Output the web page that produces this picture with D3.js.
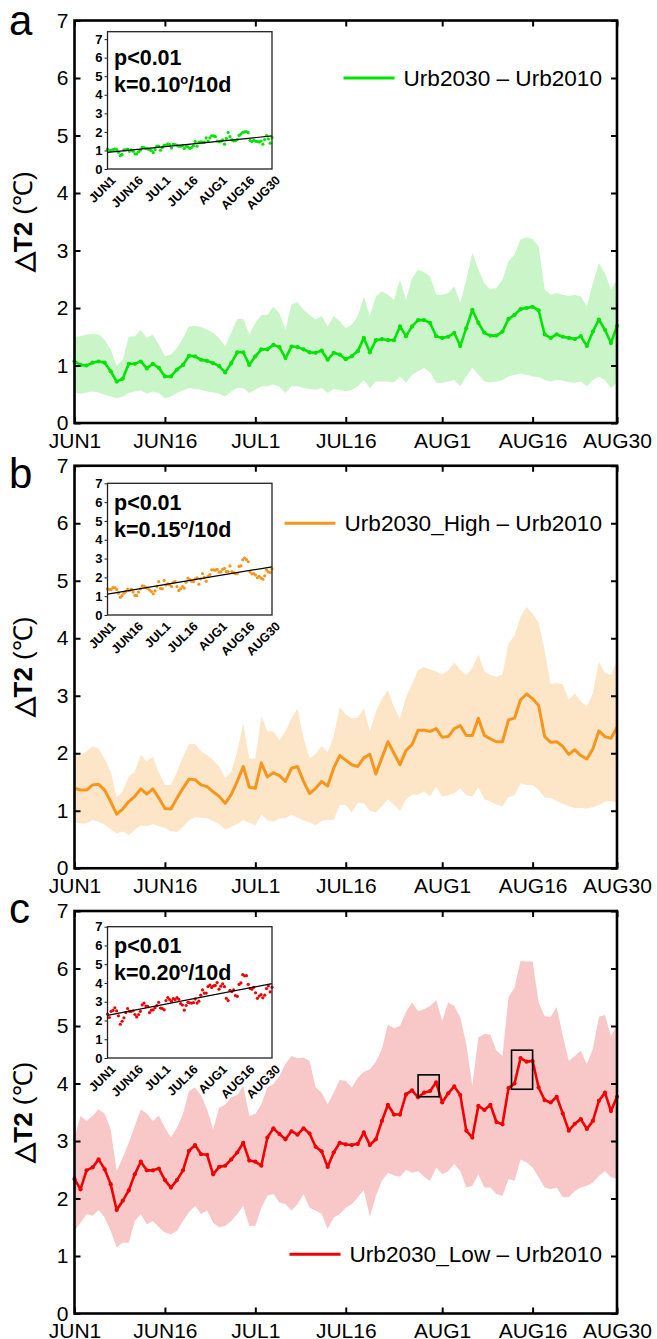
<!DOCTYPE html>
<html lang="en">
<head>
  <meta charset="UTF-8">
  <script src="https://d3js.org/d3.v7.min.js"></script>
  <title></title>
  <style>
    body { margin: 0; background: #fff; }
    text { font-family: "Liberation Sans", Arial, sans-serif; }
  </style>
</head>
<body>
  <script>
    // days are indexed from JUN1 (0) to AUG30 (90)
    var tickDays = [0, 15, 30, 45, 61, 76, 90];
    var tickLabels = ['JUN1', 'JUN16', 'JUL1', 'JUL16', 'AUG1', 'AUG16', 'AUG30'];
    var yTicks = [0, 1, 2, 3, 4, 5, 6, 7];

    var meanA = [1.07, 1.01, 1.0, 1.05, 1.07, 1.05, 0.9, 0.72, 0.77, 1.03,
      1.03, 1.07, 0.95, 1.03, 0.96, 0.81, 0.81, 0.93, 1.01, 1.17,
      1.16, 1.1, 1.08, 1.04, 0.99, 0.88, 1.04, 1.23, 1.23, 1.01,
      1.16, 1.28, 1.28, 1.36, 1.32, 1.13, 1.33, 1.32, 1.28, 1.23,
      1.22, 1.26, 1.1, 1.22, 1.19, 1.11, 1.16, 1.25, 1.48, 1.23,
      1.44, 1.46, 1.44, 1.44, 1.68, 1.51, 1.68, 1.79, 1.79, 1.74,
      1.51, 1.48, 1.5, 1.57, 1.34, 1.65, 1.97, 1.74, 1.57, 1.52,
      1.52, 1.59, 1.81, 1.88, 1.98, 2.0, 2.02, 1.96, 1.54, 1.48,
      1.54, 1.5, 1.48, 1.46, 1.51, 1.34, 1.59, 1.8, 1.62, 1.39,
      1.69];
    var upperA = [1.5, 1.51, 1.54, 1.55, 1.54, 1.45, 1.28, 0.99, 1.1, 1.5,
      1.51, 1.62, 1.48, 1.54, 1.36, 1.16, 1.19, 1.3, 1.48, 1.68,
      1.69, 1.67, 1.62, 1.57, 1.48, 1.33, 1.57, 1.81, 1.81, 1.54,
      1.74, 1.88, 1.88, 2.02, 1.91, 1.62, 2.06, 2.1, 1.97, 1.88,
      1.8, 1.86, 1.68, 1.86, 1.77, 1.65, 1.71, 1.86, 2.2, 1.86,
      2.2, 2.29, 2.23, 2.14, 2.49, 2.14, 2.52, 2.67, 2.62, 2.55,
      2.23, 2.23, 2.26, 2.38, 2.09, 2.49, 2.96, 2.67, 2.43, 2.32,
      2.35, 2.49, 2.81, 2.93, 3.19, 3.23, 3.2, 3.07, 2.32, 2.23,
      2.26, 2.23, 2.21, 2.23, 2.2, 2.03, 2.43, 2.78, 2.61, 2.32,
      2.49];
    var lowerA = [0.53, 0.51, 0.53, 0.55, 0.53, 0.49, 0.46, 0.43, 0.46, 0.52,
      0.55, 0.57, 0.51, 0.55, 0.52, 0.43, 0.46, 0.52, 0.57, 0.61,
      0.59, 0.58, 0.55, 0.53, 0.51, 0.46, 0.55, 0.61, 0.61, 0.52,
      0.58, 0.64, 0.64, 0.67, 0.63, 0.52, 0.64, 0.64, 0.61, 0.59,
      0.58, 0.61, 0.52, 0.59, 0.58, 0.55, 0.58, 0.64, 0.75, 0.61,
      0.72, 0.72, 0.72, 0.71, 0.81, 0.7, 0.84, 0.9, 0.96, 0.88,
      0.7, 0.7, 0.72, 0.75, 0.64, 0.81, 0.96, 0.84, 0.72, 0.71,
      0.72, 0.75, 0.81, 0.84, 0.86, 0.84, 0.81, 0.8, 0.75, 0.72,
      0.75, 0.74, 0.71, 0.7, 0.72, 0.64, 0.75, 0.81, 0.75, 0.61,
      0.7];

    var meanB = [1.39, 1.36, 1.36, 1.45, 1.46, 1.36, 1.16, 0.94, 1.03, 1.16,
      1.25, 1.38, 1.29, 1.38, 1.22, 1.04, 1.03, 1.22, 1.39, 1.55,
      1.54, 1.45, 1.42, 1.33, 1.25, 1.13, 1.28, 1.51, 1.77, 1.41,
      1.39, 1.83, 1.59, 1.66, 1.61, 1.51, 1.74, 1.77, 1.51, 1.3,
      1.39, 1.51, 1.43, 1.74, 1.96, 1.88, 1.8, 1.77, 1.92, 1.98,
      1.64, 1.92, 2.2, 2.0, 1.8, 2.05, 2.15, 2.4, 2.4, 2.38,
      2.43, 2.28, 2.29, 2.43, 2.48, 2.31, 2.31, 2.61, 2.31, 2.25,
      2.2, 2.2, 2.58, 2.61, 2.93, 3.03, 2.95, 2.83, 2.29, 2.19,
      2.2, 2.12, 1.98, 2.06, 1.96, 1.9, 2.08, 2.39, 2.29, 2.26,
      2.45];
    var upperB = [1.97, 1.97, 2.03, 2.12, 2.08, 1.9, 1.68, 1.23, 1.33, 1.6,
      1.68, 1.97, 1.86, 1.94, 1.66, 1.45, 1.45, 1.68, 1.94, 2.16,
      2.16, 2.03, 1.97, 1.88, 1.77, 1.57, 1.68, 2.03, 2.52, 1.91,
      1.91, 2.65, 2.38, 2.38, 2.23, 2.38, 2.61, 2.78, 2.26, 1.91,
      1.99, 2.12, 2.01, 2.3, 2.8, 2.68, 2.61, 2.62, 2.78, 2.38,
      2.72, 2.95, 3.1, 2.8, 2.6, 2.98, 3.2, 3.45, 3.5, 3.46,
      3.42, 3.37, 3.44, 3.58, 3.45, 3.36, 3.48, 3.72, 3.42, 3.36,
      3.33, 3.37, 3.91, 4.05, 4.38, 4.55, 4.42, 4.27, 3.78, 3.2,
      3.22, 3.2, 2.93, 3.04, 2.9, 2.81, 3.05, 3.59, 3.4, 3.36,
      3.62];
    var lowerB = [0.8, 0.78, 0.78, 0.84, 0.81, 0.76, 0.68, 0.61, 0.64, 0.58,
      0.67, 0.75, 0.73, 0.77, 0.73, 0.7, 0.65, 0.63, 0.72, 0.83,
      0.89, 0.88, 0.87, 0.82, 0.77, 0.67, 0.72, 0.77, 0.84, 0.79,
      0.75, 0.93, 0.84, 0.81, 0.87, 0.87, 0.93, 0.88, 0.83, 0.8,
      0.75, 0.82, 0.84, 0.84, 1.1, 1.1, 0.97, 1.14, 1.13, 1.0,
      0.97, 1.08, 1.2, 1.1, 1.0, 1.2, 1.28, 1.28, 1.34, 1.25,
      1.42, 1.25, 1.27, 1.31, 1.39, 1.27, 1.25, 1.41, 1.2, 1.16,
      1.11, 1.08, 1.24, 1.27, 1.48, 1.45, 1.45, 1.36, 1.23, 1.22,
      1.17, 1.12, 1.08, 1.05, 1.05, 1.04, 1.06, 1.1, 1.16, 1.17,
      1.15];

    var meanC = [2.34, 2.16, 2.49, 2.54, 2.68, 2.51, 2.25, 1.8, 1.96, 2.14,
      2.42, 2.64, 2.49, 2.49, 2.52, 2.32, 2.19, 2.32, 2.49, 2.83,
      2.93, 2.77, 2.76, 2.42, 2.55, 2.57, 2.68, 2.8, 2.97, 2.66,
      2.64, 2.57, 3.06, 3.22, 3.12, 3.03, 3.17, 3.11, 3.22, 3.13,
      2.9, 2.82, 2.55, 2.8, 2.97, 2.94, 2.93, 2.95, 3.15, 2.93,
      3.03, 3.35, 3.63, 3.46, 3.46, 3.81, 3.88, 3.76, 3.84, 3.87,
      4.02, 3.67, 3.83, 3.95, 3.8, 3.18, 3.06, 3.61, 3.54, 3.63,
      3.33, 3.29, 3.92, 4.0, 4.44, 4.38, 4.39, 3.93, 3.71, 3.67,
      3.77, 3.48, 3.18, 3.3, 3.38, 3.21, 3.35, 3.7, 3.84, 3.52,
      3.77];
    var upperC = [3.06, 3.44, 3.35, 3.44, 3.55, 3.48, 3.2, 2.48, 2.71, 2.97,
      3.26, 3.55, 3.48, 3.35, 3.44, 3.23, 3.06, 3.23, 3.47, 3.87,
      3.93, 3.79, 3.55, 3.2, 3.58, 3.63, 3.76, 3.8, 3.96, 3.44,
      3.47, 3.64, 3.93, 3.99, 4.13, 4.34, 4.48, 4.44, 4.45, 4.39,
      3.93, 3.84, 3.64, 3.84, 4.06, 4.05, 3.93, 4.1, 4.2, 4.25,
      4.38, 4.6, 5.02, 4.96, 5.0, 5.25, 5.41, 5.26, 5.29, 5.35,
      5.45, 5.09, 5.41, 5.35, 5.15, 4.68, 3.96, 4.8, 4.86, 4.85,
      4.57, 4.48, 5.5, 5.67, 6.13, 6.12, 6.12, 5.41, 5.17, 5.16,
      5.33, 4.83, 4.39, 4.48, 4.57, 4.34, 4.6, 5.16, 5.19, 4.83,
      5.0];
    var lowerC = [1.44, 1.58, 1.73, 1.7, 1.8, 1.67, 1.44, 1.15, 1.23, 1.23,
      1.61, 1.73, 1.55, 1.61, 1.5, 1.41, 1.38, 1.44, 1.61, 1.76,
      1.87, 1.73, 1.79, 1.58, 1.5, 1.52, 1.61, 1.73, 1.87, 1.52,
      1.52, 1.84, 2.05, 2.08, 1.93, 1.9, 1.79, 1.9, 2.08, 1.84,
      1.79, 1.73, 1.47, 1.67, 1.73, 1.84, 1.9, 2.02, 2.15, 1.68,
      2.05, 2.31, 2.45, 2.4, 2.38, 2.5, 2.45, 2.48, 2.38, 2.31,
      2.54, 2.42, 2.48, 2.6, 2.48, 2.19, 2.22, 2.42, 2.19, 2.19,
      2.08, 2.05, 2.34, 2.31, 2.68, 2.63, 2.54, 2.37, 2.19, 2.16,
      2.19, 2.02, 2.02, 2.13, 2.19, 2.22, 2.28, 2.39, 2.48, 2.37,
      2.34];

    // highlighted windows in panel c: [day from, day to, value from, value to]
    var boxesC = [[57, 60.5, 3.77, 4.15], [72.5, 76, 3.9, 4.58]];

    var seriesNames = ['Urb2030 – Urb2010', 'Urb2030_High – Urb2010', 'Urb2030_Low – Urb2010'];
    var pValues = ['p<0.01', 'p<0.01', 'p<0.01'];
    var kValues = ['0.10', '0.15', '0.20'];

    var panels = [
      {letter: 'a', mean: meanA, upper: upperA, lower: lowerA, line: '#00e400', band: '#c9f5c9', dots: true,
        legendAt: 6, letterY: 35, insetTop: 31.7, insetBottom: 169, insetMax: 7.4, boxes: []},
      {letter: 'b', mean: meanB, upper: upperB, lower: lowerB, line: '#f7961c', band: '#fde5c8', dots: false,
        legendAt: 6, letterY: 488, insetTop: 483.3, insetBottom: 615, insetMax: 7, boxes: []},
      {letter: 'c', mean: meanC, upper: upperC, lower: lowerC, line: '#f20000', band: '#f8c7c7', dots: true,
        legendAt: 1.03, letterY: 923, insetTop: 926.7, insetBottom: 1058, insetMax: 7, boxes: boxesC}
    ];

    var W = 657, H = 1339;
    var left = 74.5, right = 617, plotH = 402.5;

    var svg = d3.select('body')
      .append('svg')
      .attr('width', W)
      .attr('height', H);

    panels.forEach(function(p, pi) {
      var top = 20.5 + 445.25 * pi;
      var bottom = top + plotH;
      var g = svg.append('g');

      var x = d3.scaleLinear().domain([0, 90]).range([left, right]);
      var y = d3.scaleLinear().domain([0, 7]).range([bottom, top]);

      var rows = p.mean.map(function(v, i) { return {d: i, m: v, lo: p.lower[i], hi: p.upper[i]}; });

      // spread band
      g.append('path')
        .datum(rows)
        .attr('fill', p.band)
        .attr('d', d3.area()
          .x(function(d) { return x(d.d); })
          .y0(function(d) { return y(d.lo); })
          .y1(function(d) { return y(d.hi); }));

      // mean line
      g.append('path')
        .datum(rows)
        .attr('fill', 'none')
        .attr('stroke', p.line)
        .attr('stroke-width', p.dots ? 2.6 : 3)
        .attr('stroke-linejoin', 'round')
        .attr('d', d3.line()
          .x(function(d) { return x(d.d); })
          .y(function(d) { return y(d.m); }));

      if (p.dots) {
        g.append('g').selectAll('circle')
          .data(rows)
          .enter().append('circle')
          .attr('cx', function(d) { return x(d.d); })
          .attr('cy', function(d) { return y(d.m); })
          .attr('r', 2.1)
          .attr('fill', p.line);
      }

      // boxes on panel c
      g.selectAll('rect.hl')
        .data(p.boxes)
        .enter().append('rect')
        .attr('class', 'hl')
        .attr('x', function(b) { return x(b[0]); })
        .attr('y', function(b) { return y(b[3]); })
        .attr('width', function(b) { return x(b[1]) - x(b[0]); })
        .attr('height', function(b) { return y(b[2]) - y(b[3]); })
        .attr('fill', 'none')
        .attr('stroke', '#000')
        .attr('stroke-width', 1.6);

      // axes, ticks pointing inward
      var ax = g.append('g')
        .attr('transform', 'translate(0,' + bottom + ')')
        .call(d3.axisBottom(x).tickValues(tickDays)
          .tickFormat(function(d, i) { return tickLabels[i]; })
          .tickSize(-6).tickSizeOuter(0).tickPadding(10));
      var ay = g.append('g')
        .attr('transform', 'translate(' + left + ',0)')
        .call(d3.axisLeft(y).tickValues(yTicks).tickFormat(d3.format('d'))
          .tickSize(-6).tickSizeOuter(0).tickPadding(6));
      var at = g.append('g')
        .attr('transform', 'translate(0,' + top + ')')
        .call(d3.axisTop(x).tickValues(tickDays).tickFormat('').tickSize(-6).tickSizeOuter(0));
      var ar = g.append('g')
        .attr('transform', 'translate(' + right + ',0)')
        .call(d3.axisRight(y).tickValues(yTicks).tickFormat('').tickSize(-6).tickSizeOuter(0));
      [ax, ay, at, ar].forEach(function(a) {
        a.select('.domain').remove();
        a.selectAll('line').attr('stroke', '#000').attr('stroke-width', 2);
        a.selectAll('text')
          .attr('font-family', '"Liberation Sans", Arial, sans-serif')
          .attr('font-size', 21)
          .attr('fill', '#000');
      });

      g.append('rect')
        .attr('x', left).attr('y', top)
        .attr('width', right - left).attr('height', plotH)
        .attr('fill', 'none')
        .attr('stroke', '#000')
        .attr('stroke-width', 2.6);

      // axis title
      var yt = g.append('text')
        .attr('transform', 'translate(32,' + (top + plotH / 2) + ') rotate(-90)')
        .attr('text-anchor', 'middle')
        .attr('font-size', 26);
      yt.append('tspan').attr('font-weight', 'bold').text('△T2 ');
      yt.append('tspan').text('(℃)');

      // panel letter
      g.append('text')
        .attr('x', 9)
        .attr('y', p.letterY)
        .attr('font-size', 42)
        .text(p.letter);

      // legend
      var ly = y(p.legendAt);
      var lt = g.append('text')
        .attr('x', 602)
        .attr('y', ly)
        .attr('dy', '0.35em')
        .attr('text-anchor', 'end')
        .attr('font-size', 22.6)
        .text(seriesNames[pi]);
      var tStart = 602 - lt.node().getComputedTextLength();
      g.append('line')
        .attr('x1', tStart - 60).attr('x2', tStart - 9)
        .attr('y1', ly).attr('y2', ly)
        .attr('stroke', p.line)
        .attr('stroke-width', 3);

      // inset with daily means and linear trend
      var xi = d3.scaleLinear().domain([0, 90]).range([107.5, 272]);
      var yi = d3.scaleLinear().domain([0, p.insetMax]).range([p.insetBottom, p.insetTop]);
      var ins = g.append('g');

      ins.append('rect')
        .attr('x', 107.5).attr('y', p.insetTop)
        .attr('width', 272 - 107.5).attr('height', p.insetBottom - p.insetTop)
        .attr('fill', '#fff');

      ins.append('g').selectAll('circle')
        .data(rows)
        .enter().append('circle')
        .attr('cx', function(d) { return xi(d.d); })
        .attr('cy', function(d) { return yi(d.m); })
        .attr('r', 1.6)
        .attr('fill', p.line);

      // least squares fit of the daily means
      var mx = d3.mean(rows, function(d) { return d.d; });
      var my = d3.mean(rows, function(d) { return d.m; });
      var slope = d3.sum(rows, function(d) { return (d.d - mx) * (d.m - my); }) /
        d3.sum(rows, function(d) { return (d.d - mx) * (d.d - mx); });
      var icpt = my - slope * mx;
      ins.append('line')
        .attr('x1', xi(0)).attr('y1', yi(icpt))
        .attr('x2', xi(90)).attr('y2', yi(icpt + slope * 90))
        .attr('stroke', '#000')
        .attr('stroke-width', 1.2);

      ins.append('rect')
        .attr('x', 107.5).attr('y', p.insetTop)
        .attr('width', 272 - 107.5).attr('height', p.insetBottom - p.insetTop)
        .attr('fill', 'none')
        .attr('stroke', '#222')
        .attr('stroke-width', 1.3);

      var iy = ins.append('g')
        .attr('transform', 'translate(107.5,0)')
        .call(d3.axisLeft(yi).tickValues(yTicks).tickFormat(d3.format('d')).tickSize(3).tickSizeOuter(0).tickPadding(2));
      iy.select('.domain').remove();
      iy.selectAll('line').attr('stroke', '#222');
      iy.selectAll('text')
        .attr('font-family', '"Liberation Sans", Arial, sans-serif')
        .attr('font-size', 13)
        .attr('font-weight', 'bold')
        .attr('fill', '#000');

      ins.selectAll('text.xl')
        .data(tickDays)
        .enter().append('text')
        .attr('class', 'xl')
        .attr('transform', function(d) {
          return 'translate(' + (xi(d) + 9) + ',' + (p.insetBottom + 12) + ') rotate(-45)';
        })
        .attr('text-anchor', 'end')
        .attr('font-size', 12.5)
        .attr('font-weight', 'bold')
        .text(function(d, i) { return tickLabels[i]; });

      ins.append('text')
        .attr('x', 114)
        .attr('y', yi(5.6))
        .attr('font-size', 21.5)
        .attr('font-weight', 'bold')
        .text(pValues[pi]);
      var kt = ins.append('text')
        .attr('x', 114)
        .attr('y', yi(4.15))
        .attr('font-size', 21.5)
        .attr('font-weight', 'bold');
      kt.append('tspan').text('k=' + kValues[pi]);
      kt.append('tspan').attr('font-size', 13).attr('dy', -8).text('o');
      kt.append('tspan').attr('dy', 8).text('/10d');
    });
  </script>
</body>
</html>
